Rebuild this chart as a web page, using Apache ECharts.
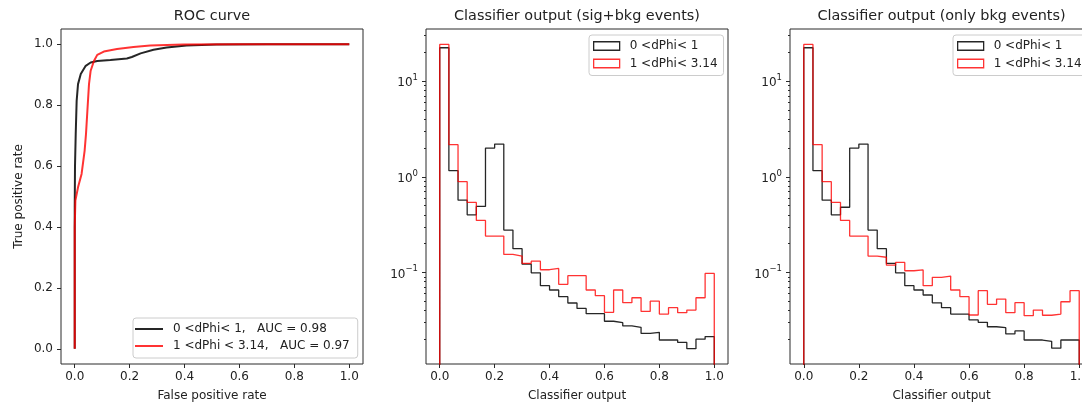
<!DOCTYPE html>
<html><head><meta charset="utf-8">
<script src="https://cdn.jsdelivr.net/npm/echarts@6/dist/echarts.min.js"></script>
<style>html,body{margin:0;padding:0;background:#fff}#c{width:1082px;height:404px}</style>
</head><body><div id="c"></div>
<script>
// ---------- data ----------
const titles = ['ROC curve', 'Classifier output (sig+bkg events)', 'Classifier output (only bkg events)'];
const rocLabels = ['0 <dPhi< 1,   AUC = 0.98', '1 <dPhi < 3.14,   AUC = 0.97'];
const histLabels = ['0 <dPhi< 1', '1 <dPhi< 3.14'];
const linTicks = [0, 0.2, 0.4, 0.6, 0.8, 1.0];
const logMajor = [0.1, 1, 10];
const logMinor = [0.02,0.03,0.04,0.05,0.06,0.07,0.08,0.09,0.2,0.3,0.4,0.5,0.6,0.7,0.8,0.9,2,3,4,5,6,7,8,9,20,30];

// ROC curves (false positive rate, true positive rate)
const rocFprBlack = [0, 0, 0.001, 0.0036, 0.007, 0.012, 0.022, 0.04, 0.058, 0.082, 0.13, 0.19, 0.208, 0.24, 0.287, 0.335, 0.407, 0.516, 0.7, 1.0];
const rocTprBlack = [0, 0.465, 0.6, 0.705, 0.814, 0.869, 0.902, 0.929, 0.94, 0.945, 0.948, 0.953, 0.958, 0.97, 0.982, 0.989, 0.996, 0.999, 1.0, 1.0];
const rocFprRed = [0, 0, 0.0024, 0.012, 0.025, 0.036, 0.041, 0.046, 0.052, 0.058, 0.07, 0.082, 0.106, 0.154, 0.214, 0.275, 0.395, 0.6, 1.0];
const rocTprRed = [0, 0.40, 0.487, 0.53, 0.574, 0.65, 0.705, 0.78, 0.869, 0.913, 0.945, 0.965, 0.976, 0.984, 0.991, 0.996, 0.999, 1.0, 1.0];

// histograms: 30 bins over [0, 1]
const nBins = 30;
const sigBkgBlack = [22.4, 1.16, 0.57, 0.40, 0.49, 2.0, 2.2, 0.277, 0.177, 0.122, 0.099, 0.0726, 0.0654, 0.0557, 0.0478, 0.042, 0.037, 0.037, 0.0308, 0.0298, 0.0275, 0.0266, 0.023, 0.0236, 0.0196, 0.0196, 0.0185, 0.0159, 0.020, 0.0213];
const sigBkgRed = [24.3, 2.17, 0.89, 0.54, 0.35, 0.24, 0.24, 0.154, 0.148, 0.124, 0.131, 0.1066, 0.110, 0.075, 0.0923, 0.0923, 0.0654, 0.057, 0.0382, 0.0654, 0.0482, 0.0543, 0.039, 0.050, 0.0366, 0.0427, 0.0379, 0.0403, 0.0543, 0.0976];
const bkgBlack = [22.4, 1.16, 0.57, 0.40, 0.48, 2.0, 2.2, 0.277, 0.177, 0.124, 0.099, 0.0726, 0.0654, 0.058, 0.048, 0.0427, 0.0366, 0.0366, 0.0318, 0.030, 0.027, 0.0264, 0.0227, 0.0244, 0.0196, 0.0196, 0.019, 0.0161, 0.0196, 0.0196];
const bkgRed = [24.3, 2.17, 0.89, 0.54, 0.35, 0.24, 0.24, 0.148, 0.144, 0.119, 0.127, 0.104, 0.106, 0.0726, 0.0887, 0.0916, 0.0654, 0.0557, 0.0358, 0.0643, 0.0463, 0.0526, 0.0379, 0.0482, 0.0352, 0.0403, 0.0356, 0.0366, 0.0493, 0.0643];

// ---------- helpers ----------
const FONT = 'DejaVu Sans';
const TXT = '#222';
const BLACK = 'rgba(0,0,0,0.85)';
const RED = 'rgba(255,0,0,0.8)';
const FLOOR = 1e-4;
function zip(a, b) { return a.map((v, i) => [v, b[i]]); }
function stepPoints(vals) {
  const pts = [[0, FLOOR]];
  vals.forEach((v, i) => { pts.push([i / nBins, v]); pts.push([(i + 1) / nBins, v]); });
  pts.push([1, FLOOR]);
  return pts;
}
function supFmt(v) {
  const e = Math.round(Math.log10(v));
  return '{b|10}{s|' + (e < 0 ? '\u2212' + (-e) : e) + '}';
}
const grids = [
  {left: 61, top: 29, width: 302, height: 335},
  {left: 426, top: 29, width: 302, height: 335},
  {left: 790, top: 29, width: 303, height: 335}
];
grids.forEach(g => Object.assign(g, {show: true, borderColor: '#2a2a2a', borderWidth: 1, backgroundColor: 'transparent',
  containLabel: false, outerBoundsMode: 'none'}));

const tickStyle = {color: '#2a2a2a', width: 1};
function xAxisFor(i, name) {
  return {
    type: 'value', gridIndex: i, min: -0.05, max: 1.05,
    axisLine: {show: false, onZero: false}, splitLine: {show: false},
    axisTick: {show: true, length: 4, lineStyle: tickStyle, customValues: linTicks},
    axisLabel: {customValues: linTicks, formatter: v => v.toFixed(1), margin: 7, color: TXT, fontSize: 12, fontFamily: FONT},
    name: name, nameLocation: 'middle', nameGap: 26,
    nameTextStyle: {color: TXT, fontSize: 12, fontFamily: FONT}
  };
}
const xAxes = [xAxisFor(0, 'False positive rate'), xAxisFor(1, 'Classifier output'), xAxisFor(2, 'Classifier output')];
const yAxes = [{
  type: 'value', gridIndex: 0, min: -0.05, max: 1.05,
  axisLine: {show: false, onZero: false}, splitLine: {show: false},
  axisTick: {show: true, length: 4, lineStyle: tickStyle, customValues: linTicks},
  axisLabel: {customValues: linTicks, formatter: v => v.toFixed(1), margin: 8, color: TXT, fontSize: 12, fontFamily: FONT},
  name: 'True positive rate', nameLocation: 'middle', nameGap: 36, nameRotate: 90,
  nameTextStyle: {color: TXT, fontSize: 12, fontFamily: FONT}
}];
[1, 2].forEach(g => {
  yAxes.push({
    type: 'log', logBase: 10, gridIndex: g, min: 0.011, max: 35.2, position: 'left',
    axisLine: {show: false, onZero: false}, splitLine: {show: false},
    axisTick: {show: true, length: 4, lineStyle: tickStyle, customValues: logMajor},
    axisLabel: {customValues: logMajor, formatter: supFmt, margin: 8, color: TXT,
      rich: {b: {fontSize: 12, fontFamily: FONT, color: TXT, lineHeight: 16, verticalAlign: 'bottom'},
             s: {fontSize: 8.5, fontFamily: FONT, color: TXT, lineHeight: 10, verticalAlign: 'top'}}}
  });
  yAxes.push({
    type: 'log', logBase: 10, gridIndex: g, min: 0.011, max: 35.2, position: 'left', offset: 0,
    axisLine: {show: false, onZero: false}, splitLine: {show: false},
    axisTick: {show: true, length: 2, lineStyle: tickStyle, customValues: logMinor},
    axisLabel: {show: false}
  });
});

function lineSeries(name, xi, yi, data, color, width) {
  return {
    type: 'line', name: name, xAxisIndex: xi, yAxisIndex: yi, data: data,
    showSymbol: false, symbol: 'none', clip: true, animation: false, silent: true,
    lineStyle: {color: color, width: width}, itemStyle: {color: color},
    emphasis: {disabled: true}
  };
}
const series = [
  lineSeries(rocLabels[0], 0, 0, zip(rocFprBlack, rocTprBlack), BLACK, 2),
  lineSeries(rocLabels[1], 0, 0, zip(rocFprRed, rocTprRed), RED, 2),
  lineSeries(histLabels[0], 1, 1, stepPoints(sigBkgBlack), BLACK, 1.3),
  lineSeries(histLabels[1], 1, 1, stepPoints(sigBkgRed), RED, 1.3),
  lineSeries(histLabels[0], 2, 3, stepPoints(bkgBlack), BLACK, 1.3),
  lineSeries(histLabels[1], 2, 3, stepPoints(bkgRed), RED, 1.3)
];

const legendBase = {
  orient: 'vertical', selectedMode: false,
  backgroundColor: 'rgba(255,255,255,0.85)', borderColor: '#ccc', borderWidth: 1, borderRadius: 3,
  textStyle: {fontFamily: FONT, fontSize: 12, color: TXT, lineHeight: 14, padding: [0, 0, 0, 5]}
};
const histLegendData = [
  {name: histLabels[0], icon: 'rect', itemStyle: {color: 'rgba(0,0,0,0)', borderColor: BLACK, borderWidth: 1.3}},
  {name: histLabels[1], icon: 'rect', itemStyle: {color: 'rgba(0,0,0,0)', borderColor: RED, borderWidth: 1.3}}
];
const legends = [
  Object.assign({}, legendBase, {left: 133, top: 318, icon: 'rect', itemWidth: 28, itemHeight: 2, itemGap: 3,
    padding: [4, 8, 5, 2], data: rocLabels}),
  Object.assign({}, legendBase, {left: 589, top: 35, itemWidth: 26, itemHeight: 8.5, itemGap: 3.5,
    padding: [4, 6, 5, 4], data: histLegendData}),
  Object.assign({}, legendBase, {left: 953, top: 35, itemWidth: 26, itemHeight: 8.5, itemGap: 3.5,
    padding: [4, 6, 5, 4], data: histLegendData})
];

const titleX = [212, 577, 941.5];
const graphics = titles.map((t, i) => ({
  type: 'text', x: titleX[i], y: 16, silent: true,
  style: {text: t, align: 'center', verticalAlign: 'middle', fontSize: 14.4, fontFamily: FONT, fill: TXT}
}));

const chart = echarts.init(document.getElementById('c'), null, {renderer: 'canvas'});
chart.setOption({
  animation: false,
  backgroundColor: '#fff',
  grid: grids,
  xAxis: xAxes,
  yAxis: yAxes,
  legend: legends,
  series: series,
  graphic: graphics
});
</script></body></html>
